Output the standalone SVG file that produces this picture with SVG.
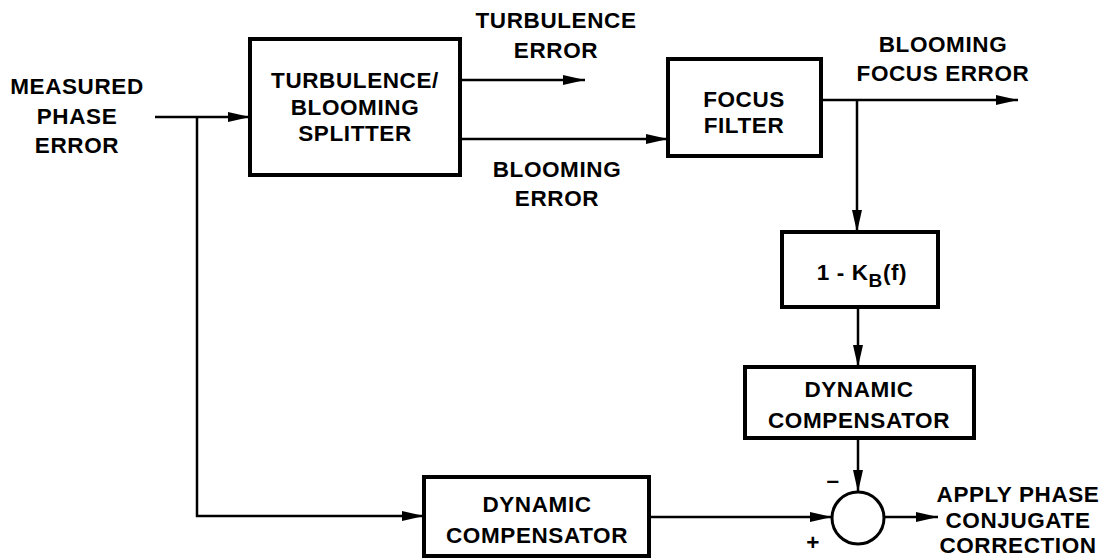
<svg xmlns="http://www.w3.org/2000/svg" width="1110" height="559" viewBox="0 0 1110 559">
<defs>
<marker id="arr" viewBox="0 0 22 10" refX="22" refY="5" markerWidth="22" markerHeight="10" markerUnits="userSpaceOnUse" orient="auto">
<path d="M0,0 L22,5 L0,10 Z" fill="#000"/>
</marker>
<style>
.box{fill:#fff;stroke:#000;stroke-width:4}
.ln{fill:none;stroke:#000;stroke-width:2.5}
.t{font-family:"Liberation Sans",Arial,sans-serif;font-weight:bold;font-size:22.5px;letter-spacing:0.6px;fill:#000;text-anchor:middle}
</style>
</defs>
<rect width="1110" height="559" fill="#fff"/>
<g id="connectors">
<path class="ln" d="M155,117 H250" marker-end="url(#arr)"/>
<path class="ln" d="M197,117 V516 H424" marker-end="url(#arr)"/>
<path class="ln" d="M460,80 H585" marker-end="url(#arr)"/>
<path class="ln" d="M460,139 H668" marker-end="url(#arr)"/>
<path class="ln" d="M821,100 H1018" marker-end="url(#arr)"/>
<path class="ln" d="M857,100 V232" marker-end="url(#arr)"/>
<path class="ln" d="M858,307 V367" marker-end="url(#arr)"/>
<path class="ln" d="M858,438 V492" marker-end="url(#arr)"/>
<path class="ln" d="M649,517 H832" marker-end="url(#arr)"/>
<path class="ln" d="M884,517 H938" marker-end="url(#arr)"/>
</g>
<g id="input-label">
<text class="t" x="77" y="94">MEASURED</text>
<text class="t" x="77" y="124">PHASE</text>
<text class="t" x="77" y="153">ERROR</text>
</g>
<g id="splitter">
<rect class="box" x="250" y="39" width="210" height="136"/>
<text class="t" x="355" y="88">TURBULENCE/</text>
<text class="t" x="355" y="115">BLOOMING</text>
<text class="t" x="355" y="141">SPLITTER</text>
</g>
<g id="turbulence-error">
<text class="t" x="556" y="28">TURBULENCE</text>
<text class="t" x="556" y="58">ERROR</text>
</g>
<g id="blooming-error">
<text class="t" x="557" y="177">BLOOMING</text>
<text class="t" x="557" y="206">ERROR</text>
</g>
<g id="focus-filter">
<rect class="box" x="668" y="59" width="153" height="97"/>
<text class="t" x="744" y="107">FOCUS</text>
<text class="t" x="744" y="133">FILTER</text>
</g>
<g id="blooming-focus-error">
<text class="t" x="943" y="52">BLOOMING</text>
<text class="t" x="943" y="81">FOCUS ERROR</text>
</g>
<g id="kb">
<rect class="box" x="782" y="232" width="156" height="75"/>
<text class="t" x="862" y="280" font-size="25">1 - K<tspan font-size="19" dy="7">B</tspan><tspan dy="-7">(f)</tspan></text>
</g>
<g id="dyn-comp-right">
<rect class="box" x="745" y="367" width="229" height="71"/>
<text class="t" x="859" y="397">DYNAMIC</text>
<text class="t" x="859" y="428">COMPENSATOR</text>
</g>
<g id="dyn-comp-bottom">
<rect class="box" x="424" y="477" width="225" height="79"/>
<text class="t" x="537" y="512">DYNAMIC</text>
<text class="t" x="537" y="543">COMPENSATOR</text>
</g>
<g id="sum">
<circle cx="858" cy="518" r="26" fill="#fff" stroke="#000" stroke-width="3"/>
<text class="t" x="833" y="488">–</text>
<text class="t" x="813" y="550">+</text>
</g>
<g id="output-label">
<text class="t" x="1018" y="502">APPLY PHASE</text>
<text class="t" x="1018" y="528">CONJUGATE</text>
<text class="t" x="1018" y="553">CORRECTION</text>
</g>
</svg>
